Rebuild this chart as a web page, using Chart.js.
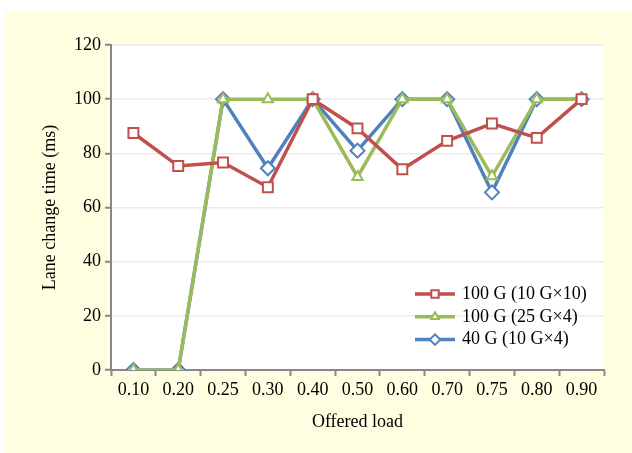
<!DOCTYPE html>
<html>
<head>
<meta charset="utf-8">
<script src="https://cdn.jsdelivr.net/npm/chart.js@4.4.1/dist/chart.umd.min.js"></script>
<style>
  html, body { margin: 0; padding: 0; background: #fff; }
  #wrap { position: relative; width: 632px; height: 453px; }
  #panel { position: absolute; left: 5px; top: 11px; right: 0; bottom: 0; background: #fffee0; }
  #chart { position: absolute; left: 0; top: 0; }
</style>
</head>
<body>
<div id="wrap">
  <div id="panel"></div>
  <canvas id="chart" width="632" height="453"></canvas>
</div>
<script>
const loads = ['0.10', '0.20', '0.25', '0.30', '0.40', '0.50', '0.60', '0.70', '0.75', '0.80', '0.90'];
const g100x10 = [87.5, 75.3, 76.6, 67.5, 100, 89.2, 74.1, 84.6, 91, 85.7, 100];
const g100x4 = [0, 0, 100, 100, 100, 71.3, 100, 100, 71.5, 100, 100];
const g40x4 = [0, 0, 100, 74.5, 100, 81, 100, 100, 65.6, 100, 100];
const yTicks = [0, 20, 40, 60, 80, 100, 120];

const serif = 'Liberation Serif, Times New Roman, serif';

// white plot area on the yellow panel
const plotBackground = {
    id: 'plotBackground',
    beforeDraw(chart) {
        const { ctx, chartArea: a } = chart;
        ctx.save();
        ctx.fillStyle = '#ffffff';
        ctx.fillRect(a.left, a.top, a.right - a.left, a.bottom - a.top);
        ctx.restore();
    }
};

// legend sitting inside the plot, bottom right
const insideLegend = {
    id: 'insideLegend',
    afterDraw(chart) {
        const { ctx, chartArea: a } = chart;
        ctx.save();
        ctx.font = '18px ' + serif;
        ctx.textBaseline = 'middle';
        chart.data.datasets.forEach((ds, i) => {
            const y = a.bottom - 76 + i * 22.8;
            const x0 = a.right - 189;
            ctx.strokeStyle = ds.borderColor;
            ctx.lineWidth = 3.5;
            ctx.beginPath();
            ctx.moveTo(x0, y);
            ctx.lineTo(x0 + 40, y);
            ctx.stroke();
            ctx.fillStyle = '#fff';
            ctx.strokeStyle = ds.borderColor;
            ctx.lineWidth = 2;
            Chart.helpers.drawPoint(ctx, {
                pointStyle: ds.pointStyle,
                radius: ds.pointRadius * 0.75,
                rotation: 0,
                borderWidth: 2
            }, x0 + 20, y);
            ctx.fillStyle = '#000';
            ctx.fillText(ds.label, x0 + 47, y);
        });
        ctx.restore();
    }
};

new Chart(document.getElementById('chart'), {
    type: 'line',
    data: {
        labels: loads,
        datasets: [
            {
                label: '100 G (10 G×10)',
                data: g100x10,
                borderColor: '#c0504d',
                pointStyle: 'rect',
                pointRadius: 7
            },
            {
                label: '100 G (25 G×4)',
                data: g100x4,
                borderColor: '#9bbb59',
                pointStyle: 'triangle',
                pointRadius: 6
            },
            {
                label: '40 G (10 G×4)',
                data: g40x4,
                borderColor: '#4f81bd',
                pointStyle: 'rectRot',
                pointRadius: 7
            }
        ].map(d => Object.assign(d, {
            borderWidth: 3.5,
            pointBackgroundColor: '#ffffff',
            pointBorderColor: d.borderColor,
            pointBorderWidth: 2,
            tension: 0
        }))
    },
    options: {
        responsive: false,
        animation: false,
        layout: { padding: { left: 35, top: 45, right: 28, bottom: 16 } },
        plugins: {
            legend: { display: false },
            tooltip: { enabled: false }
        },
        scales: {
            x: {
                offset: true,
                afterFit: s => { s.height = 67; },
                grid: { offset: true, drawOnChartArea: false, tickLength: 6, tickColor: '#888', tickWidth: 2 },
                border: { color: '#888', width: 2 },
                ticks: { color: '#000', padding: 3, font: { family: serif, size: 18 }, maxRotation: 0 },
                title: { display: true, text: 'Offered load', color: '#000', font: { family: serif, size: 18 } }
            },
            y: {
                min: 0,
                max: 120,
                afterFit: s => { s.width = 76; },
                afterBuildTicks: s => { s.ticks = yTicks.map(v => ({ value: v })); },
                grid: { color: '#ebebeb', lineWidth: 1.5, tickLength: 6, tickColor: '#888', tickWidth: 2 },
                border: { color: '#888', width: 2 },
                ticks: { color: '#000', padding: 4, font: { family: serif, size: 18 } },
                title: { display: true, text: 'Lane change time (ms)', color: '#000', font: { family: serif, size: 18 } }
            }
        }
    },
    plugins: [plotBackground, insideLegend]
});
</script>
</body>
</html>
